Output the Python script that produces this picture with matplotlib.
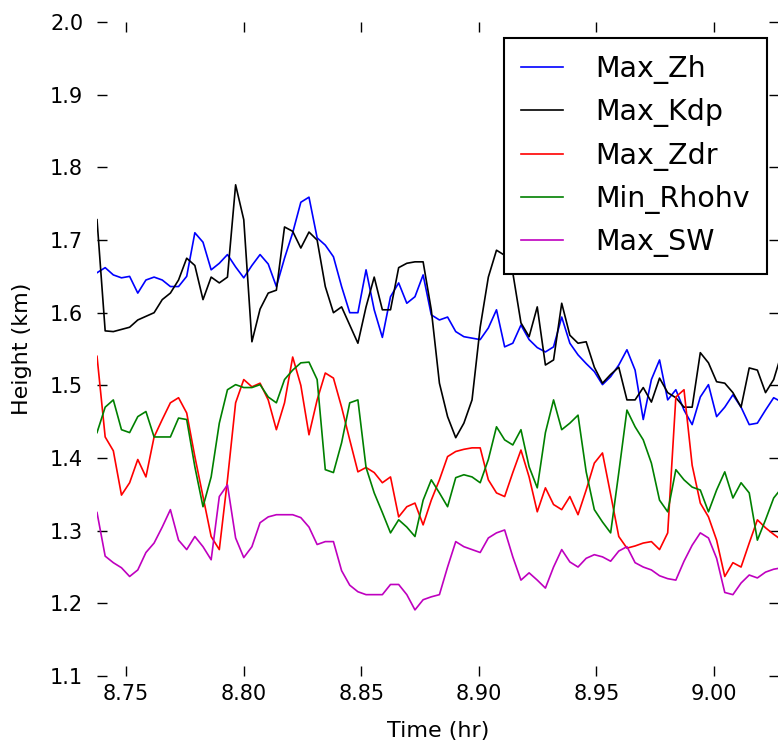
import numpy as np
import matplotlib
matplotlib.use("Agg")
import matplotlib.pyplot as plt

# time axis (hr), one sample every ~12.5 s
time = np.linspace(8.7377, 9.0288, 85)

max_zh = [1.655, 1.662, 1.652, 1.648, 1.650, 1.627, 1.645, 1.649, 1.645, 1.636,
          1.636, 1.650, 1.710, 1.697, 1.659, 1.668, 1.680, 1.663, 1.648, 1.665,
          1.680, 1.667, 1.636, 1.675, 1.710, 1.752, 1.759, 1.703, 1.693, 1.677,
          1.636, 1.600, 1.600, 1.659, 1.604, 1.566, 1.622, 1.641, 1.613, 1.622,
          1.652, 1.597, 1.590, 1.594, 1.574, 1.567, 1.565, 1.563, 1.579, 1.604,
          1.553, 1.558, 1.583, 1.563, 1.552, 1.546, 1.553, 1.594, 1.558, 1.542,
          1.530, 1.519, 1.501, 1.512, 1.528, 1.549, 1.521, 1.453, 1.508, 1.535,
          1.480, 1.494, 1.466, 1.446, 1.484, 1.501, 1.457, 1.470, 1.487, 1.470,
          1.446, 1.448, 1.466, 1.483, 1.477]

max_kdp = [1.728, 1.575, 1.574, 1.577, 1.580, 1.590, 1.595, 1.600, 1.618, 1.627,
           1.645, 1.675, 1.665, 1.618, 1.649, 1.641, 1.649, 1.776, 1.728, 1.560,
           1.605, 1.627, 1.631, 1.718, 1.712, 1.689, 1.711, 1.700, 1.636, 1.600,
           1.608, 1.583, 1.558, 1.608, 1.649, 1.604, 1.604, 1.662, 1.668, 1.670,
           1.670, 1.604, 1.503, 1.457, 1.428, 1.448, 1.480, 1.580, 1.649, 1.686,
           1.679, 1.655, 1.586, 1.567, 1.608, 1.528, 1.535, 1.613, 1.569, 1.558,
           1.560, 1.525, 1.503, 1.515, 1.525, 1.480, 1.480, 1.497, 1.477, 1.510,
           1.490, 1.483, 1.470, 1.470, 1.545, 1.531, 1.505, 1.503, 1.490, 1.470,
           1.524, 1.521, 1.490, 1.508, 1.545]

max_zdr = [1.540, 1.429, 1.410, 1.349, 1.366, 1.398, 1.374, 1.429, 1.453, 1.476,
           1.483, 1.462, 1.402, 1.347, 1.292, 1.274, 1.370, 1.476, 1.508, 1.498,
           1.503, 1.480, 1.439, 1.476, 1.539, 1.500, 1.432, 1.480, 1.517, 1.510,
           1.470, 1.425, 1.381, 1.387, 1.380, 1.366, 1.374, 1.319, 1.333, 1.338,
           1.308, 1.342, 1.370, 1.402, 1.409, 1.412, 1.414, 1.414, 1.370, 1.352,
           1.347, 1.380, 1.411, 1.374, 1.326, 1.359, 1.336, 1.329, 1.347, 1.322,
           1.356, 1.393, 1.407, 1.350, 1.292, 1.276, 1.279, 1.283, 1.285, 1.274,
           1.297, 1.484, 1.494, 1.390, 1.338, 1.319, 1.287, 1.237, 1.256, 1.250,
           1.283, 1.315, 1.304, 1.295, 1.287]

min_rhohv = [1.435, 1.470, 1.480, 1.439, 1.435, 1.457, 1.464, 1.429, 1.429, 1.429,
             1.455, 1.453, 1.388, 1.333, 1.374, 1.448, 1.494, 1.501, 1.497, 1.497,
             1.501, 1.484, 1.476, 1.508, 1.521, 1.531, 1.532, 1.508, 1.384, 1.380,
             1.421, 1.476, 1.480, 1.387, 1.352, 1.325, 1.297, 1.315, 1.305, 1.292,
             1.342, 1.370, 1.352, 1.333, 1.373, 1.377, 1.374, 1.366, 1.398, 1.443,
             1.425, 1.418, 1.439, 1.388, 1.359, 1.435, 1.480, 1.439, 1.448, 1.459,
             1.381, 1.329, 1.312, 1.297, 1.380, 1.466, 1.443, 1.425, 1.393, 1.342,
             1.326, 1.384, 1.370, 1.360, 1.356, 1.326, 1.356, 1.381, 1.345, 1.366,
             1.352, 1.287, 1.315, 1.345, 1.359]

max_sw = [1.325, 1.265, 1.256, 1.249, 1.237, 1.246, 1.270, 1.283, 1.305, 1.329,
          1.287, 1.274, 1.292, 1.278, 1.260, 1.347, 1.363, 1.290, 1.263, 1.278,
          1.311, 1.319, 1.322, 1.322, 1.322, 1.318, 1.305, 1.281, 1.285, 1.285,
          1.245, 1.225, 1.216, 1.212, 1.212, 1.212, 1.226, 1.226, 1.212, 1.191,
          1.205, 1.209, 1.212, 1.250, 1.285, 1.278, 1.274, 1.270, 1.290, 1.297,
          1.301, 1.264, 1.232, 1.242, 1.232, 1.221, 1.250, 1.274, 1.257, 1.250,
          1.262, 1.267, 1.264, 1.258, 1.272, 1.278, 1.256, 1.250, 1.246, 1.238,
          1.234, 1.232, 1.258, 1.280, 1.297, 1.290, 1.262, 1.215, 1.212, 1.228,
          1.239, 1.235, 1.243, 1.247, 1.249]

series = [("Max_Zh", max_zh, "b"), ("Max_Kdp", max_kdp, "k"), ("Max_Zdr", max_zdr, "r"),
          ("Min_Rhohv", min_rhohv, "g"), ("Max_SW", max_sw, (0.75, 0, 0.75))]

fig = plt.figure(figsize=(7.78, 7.47), dpi=100)
ax = fig.add_axes([0.1247, 0.095, 0.8766, 0.8755])

for name, values, color in series:
    ax.plot(time, values, color=color, lw=1.2, label=name)

ax.set_xlim(8.7377, 9.0276)
ax.set_ylim(1.1, 2.0)
ax.set_xticks([8.75, 8.80, 8.85, 8.90, 8.95, 9.00])
ax.set_yticks(np.arange(1.1, 2.01, 0.1))
ax.yaxis.set_major_formatter(matplotlib.ticker.FormatStrFormatter("%.1f"))
ax.xaxis.set_major_formatter(matplotlib.ticker.FormatStrFormatter("%.2f"))

for side in ax.spines:
    ax.spines[side].set_visible(False)
ax.tick_params(direction="in", top=True, right=True, length=7, width=1, labelsize=15)
ax.tick_params(axis="x", pad=6)
ax.tick_params(axis="y", pad=10)

ax.set_xlabel("Time (hr)", fontsize=16, labelpad=12)
ax.set_ylabel("Height (km)", fontsize=16, labelpad=13)

leg = ax.legend(loc="upper right", bbox_to_anchor=(767 / 778, 1 - 38 / 747),
                bbox_transform=fig.transFigure, borderaxespad=0,
                fontsize=20.5, fancybox=False, framealpha=1, edgecolor="black",
                handlelength=1.45, handletextpad=1.15, labelspacing=0.5,
                borderpad=0.6)
leg.get_frame().set_linewidth(1.5)

plt.savefig("out.png", dpi=100)
